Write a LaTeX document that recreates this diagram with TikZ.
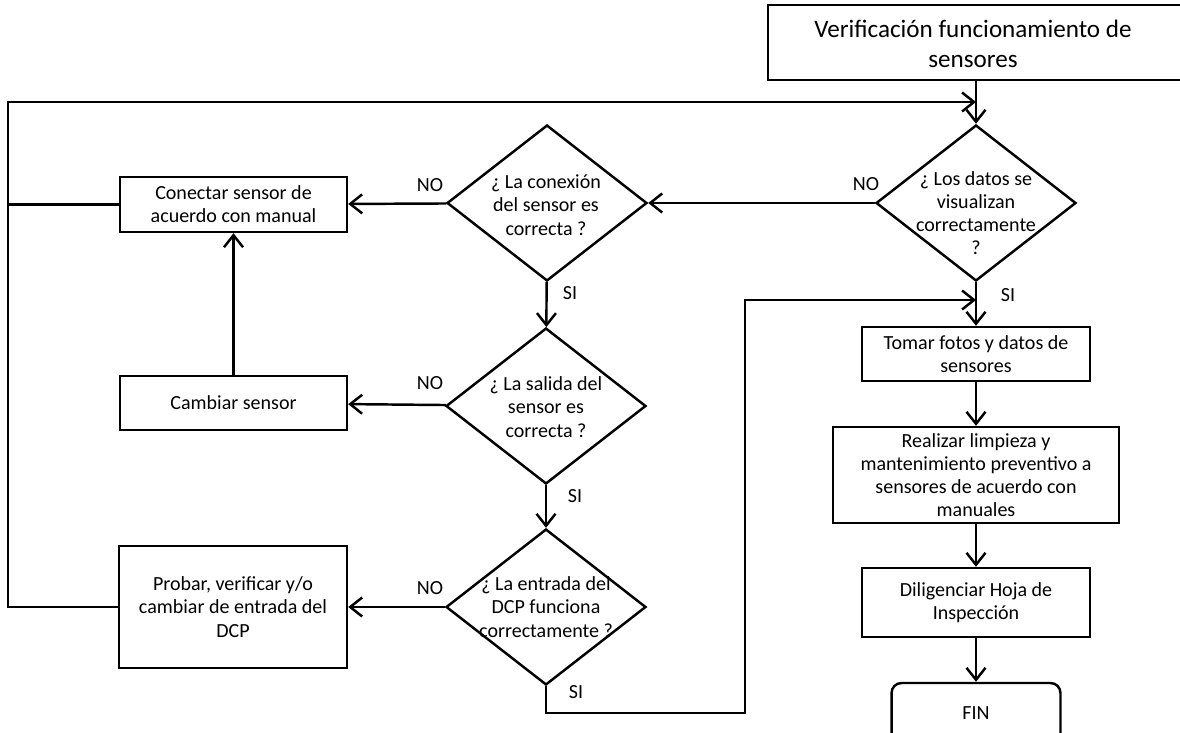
\documentclass[tikz,border=0pt]{standalone}
\usepackage{fontspec}
\setmainfont{Carlito}
\usetikzlibrary{shapes.geometric,arrows.meta,positioning}

\begin{document}
\begin{tikzpicture}[
        x=0.02cm, y=-0.02cm,
        every node/.style={font=\fontsize{11.4}{13.2}\selectfont},
        process/.style={rectangle, draw, line width=1.4pt, align=center, inner sep=2pt},
        decision/.style={diamond, draw, line width=1.4pt, minimum width=4cm, minimum height=3.12cm, inner sep=0pt},
        dtext/.style={align=center, inner sep=0pt},
        flow/.style={-{Straight Barb[length=2.4mm,width=3.8mm]}, line width=1.4pt},
        link/.style={line width=1.4pt},
        lbl/.style={inner sep=1pt}
    ]
        \useasboundingbox (0,0) rectangle (1180,733);
        \fill[white] (0,0) rectangle (1180,733);
        \clip (0,0) rectangle (1180,733);

        % Start
        \node[process, minimum width=8.5cm, minimum height=1.5cm] (verif) at (980.5,42.5) {};
        \node[dtext, font=\fontsize{14.3}{17}\selectfont] (veriftext) at (973,44) {Verificación funcionamiento de\\sensores};

        % Decisions
        \node[decision] (d1) at (976,203) {};
        \node[dtext] (d1t) at (976,213) {¿ Los datos se\\visualizan\\correctamente\\?};
        \node[decision] (d2) at (547,203) {};
        \node[dtext] (d2t) at (546,205) {¿ La conexión\\del sensor es\\correcta ?};
        \node[decision] (d3) at (546,406) {};
        \node[dtext] (d3t) at (546,407) {¿ La salida del\\sensor es\\correcta ?};
        \node[decision] (d4) at (546,607) {};
        \node[dtext] (d4t) at (546,607) {¿ La entrada del\\DCP funciona\\correctamente ?};

        % Corrections
        \node[process, minimum width=4.54cm, minimum height=1.1cm] (conectar) at (233.5,204.5) {Conectar sensor de\\acuerdo con manual};
        \node[process, minimum width=4.54cm, minimum height=1.08cm] (cambiar) at (233.5,403) {Cambiar sensor};
        \node[process, minimum width=4.56cm, minimum height=2.44cm] (probar) at (233,607) {Probar, verificar y/o\\cambiar de entrada del\\DCP};

        % Right column
        \node[process, minimum width=4.56cm, minimum height=1.08cm] (tomar) at (976,354) {Tomar fotos y datos de\\sensores};
        \node[process, minimum width=5.72cm, minimum height=1.92cm] (realizar) at (976,475) {Realizar limpieza y\\mantenimiento preventivo a\\sensores de acuerdo con\\manuales};
        \node[process, minimum width=4.56cm, minimum height=1.38cm] (dilig) at (976,602.5) {Diligenciar Hoja de\\Inspección};
        \node[process, rounded corners=2mm, minimum width=3.38cm, minimum height=1.2cm] (fin) at (976,713) {FIN};

        % Joins
        \coordinate (joinA) at (976,102);
        \coordinate (joinB) at (976,300);

        % Flows
        \draw[flow] (verif.south -| d1.north) -- (d1);
        \draw[flow] (d1) -- (tomar);
        \draw[flow] (tomar) -- (realizar);
        \draw[flow] (realizar) -- (dilig);
        \draw[flow] (dilig) -- (fin);
        \draw[flow] (d1) -- (d2);
        \draw[flow] (d2) -- (conectar);
        \draw[flow] (d2) -- (d3);
        \draw[flow] (d3) -- (cambiar);
        \draw[flow] (d3) -- (d4);
        \draw[flow] (d4) -- (probar);
        \draw[flow] (cambiar) -- (conectar);
        \draw[flow] (d4.south) -- (546,713) -| (745,300) -- (joinB);
        \draw[flow] (probar.west) -- (8,607) |- (joinA);
        \draw[link] (conectar.west) -- (8,204.5);

        % Labels
        \node[lbl] (no1) at (866,184) {NO};
        \node[lbl] (no2) at (430,185) {NO};
        \node[lbl] (no3) at (430,383) {NO};
        \node[lbl] (no4) at (430,588) {NO};
        \node[lbl] (si1) at (1008,295) {SI};
        \node[lbl] (si2) at (570,293) {SI};
        \node[lbl] (si3) at (575,496) {SI};
        \node[lbl] (si4) at (576,692) {SI};

    \end{tikzpicture}
\end{document}
